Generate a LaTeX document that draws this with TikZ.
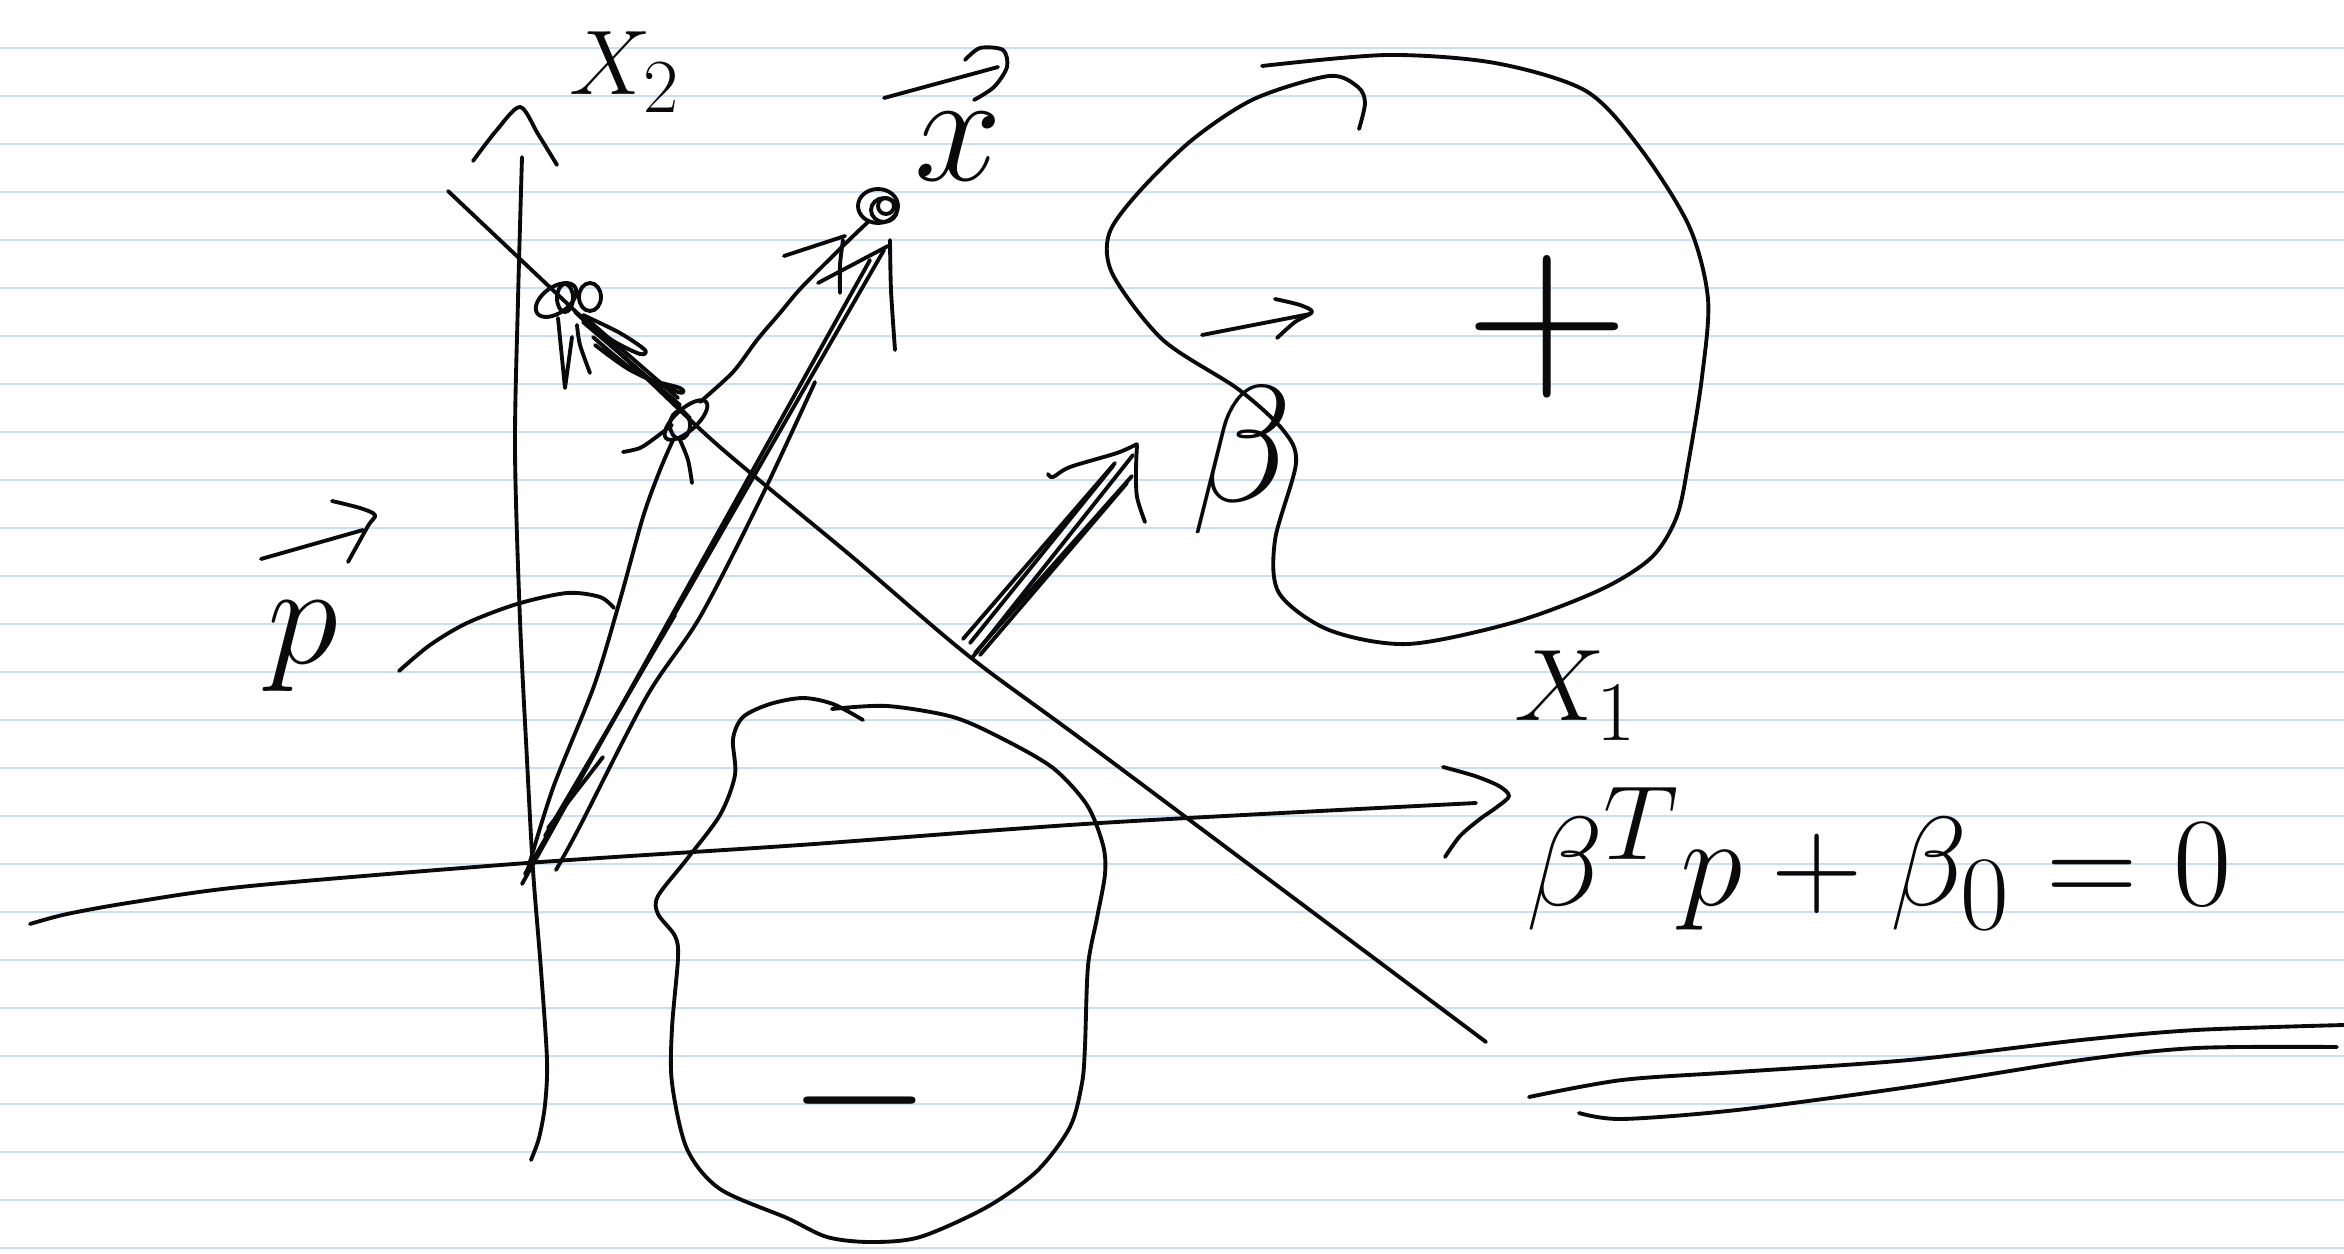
\documentclass[tikz,border=0pt]{standalone}
\usepackage{amsmath,amssymb}
\usepackage{xcolor}
\usepackage{tikz}
\usetikzlibrary{positioning}
\definecolor{cink}{HTML}{0A0A0A}
\definecolor{crule}{HTML}{C8DEFB}
\tikzset{
 ink/.style={draw=cink, line width=2.2pt, line cap=round, line join=round},
 rule/.style={draw=crule, line width=1.3pt},
 lbl/.style={inner sep=0pt, text=cink, font=\Huge},
}

\begin{document}
\begin{tikzpicture}[x=0.02cm, y=-0.02cm]
 % paper
 \useasboundingbox (0,0) rectangle (2344,1254);
 \fill[white] (0,0) rectangle (2344,1254);
 \foreach \k in {1,...,26} \draw[rule] (0,48*\k) -- (2344,48*\k);
 % axes
 \draw[ink] plot[smooth] coordinates {(522,157) (518,300) (515,450) (520,620) (527,760) (533,870) (541,970) (547,1060) (545,1105) (539,1138) (531,1160)};
 \draw[ink] plot[smooth] coordinates {(473,161) (496,131) (520,107) (538,134) (557,165)};
 \draw[ink] plot[smooth] coordinates {(30,924) (67,914) (134,902) (250,886) (527,863) (800,845) (1100,823) (1476,803)};
 \draw[ink] plot[smooth] coordinates {(1443,767) (1475,776) (1499,786) (1509,796) (1497,807) (1480,819) (1460,836) (1445,857)};
 % boundary
 \draw[ink] plot[smooth] coordinates {(448,191) (556,293) (640,372) (721,448) (850,555) (970,657) (1100,753) (1486,1042)};
 % regions
 \draw[ink] plot[smooth] coordinates {(1262,66) (1387,55) (1495,63) (1586,91) (1640,148) (1689,226) (1708,299) (1702,377) (1689,459) (1677,516) (1652,557) (1602,589) (1515,622) (1408,644) (1329,630) (1279,593) (1275,540) (1296,463) (1283,430) (1238,389) (1163,340) (1113,275) (1109,234) (1138,193) (1192,140) (1254,99) (1329,76) (1358,87) (1365,103) (1359,129)};
 \draw[ink] plot[smooth] coordinates {(832,709) (887,706) (953,717) (1003,739) (1053,768) (1087,805) (1103,845) (1105,874) (1097,918) (1088,966) (1085,1046) (1082,1083) (1070,1127) (1037,1171) (987,1207) (920,1237) (870,1242) (827,1237) (787,1218) (720,1189) (687,1149) (672,1083) (672,1028) (678,958) (675,936) (658,914) (658,896) (687,859) (720,815) (735,775) (733,739) (743,717) (770,704) (803,698) (833,704) (863,720)};
 \draw[ink] plot[smooth] coordinates {(399,671) (430,645) (467,623) (517,604) (567,593) (600,597) (614,608)};
 % vectors from origin
 \draw[ink] plot[smooth] coordinates {(527,872) (553,788) (594,686) (620,600) (643,517) (660,470) (673,440)};
 \draw[ink] (525,874) -- (884,250);
 \draw[ink] (522,884) -- (870,260);
 \draw[ink] plot[smooth] coordinates {(556,870) (580,826) (647,696) (700,617) (760,500) (815,382)};
 \draw[ink] (545,836) -- (675,615);
 \draw[ink] (548,828) -- (603,757);
 \draw[ink] (818,283) -- (888,246);
 \draw[ink] plot[smooth] coordinates {(890,240) (891,290) (895,350)};
 % support points
 \draw[ink, rotate around={35:(556,300)}] (556,300) ellipse [x radius=0.46cm, y radius=0.26cm];
 \draw[ink] (565,298) ellipse [x radius=0.16cm, y radius=0.28cm];
 \draw[ink] (590,297) ellipse [x radius=0.22cm, y radius=0.28cm];
 \draw[ink] (558,318) -- (565,388) -- (572,337);
 \draw[ink] plot[smooth] coordinates {(577,325) (580,345) (590,373)};
 \draw[ink] (575,312) -- (685,413);
 \draw[ink] (580,316) -- (690,418);
 \draw[ink] (583,322) -- (680,405);
 \draw[ink] (588,320) -- (678,398);
 \draw[ink] plot[smooth] coordinates {(583,315) (620,333) (645,350) (640,354) (615,342) (585,322)};
 \draw[ink] plot[smooth] coordinates {(593,337) (640,375) (680,388) (678,392) (630,370) (595,345)};
 \draw[ink, rotate around={42:(686,420)}] (686,420) ellipse [x radius=0.54cm, y radius=0.22cm];
 \draw[ink] (680,425) ellipse [x radius=0.2cm, y radius=0.28cm];
 \draw[ink] plot[smooth] coordinates {(623,452) (640,448) (655,438) (672,425)};
 \draw[ink] plot[smooth] coordinates {(680,440) (688,460) (692,483)};
 \draw[ink] plot[smooth] coordinates {(700,402) (733,372) (757,340) (780,313) (802,287) (846,243) (868,222)};
 \draw[ink] (784,256) -- (845,236);
 \draw[ink] plot[smooth] coordinates {(843,240) (840,265) (840,293)};
 % point x
 \draw[ink] (878,206) ellipse [x radius=0.4cm, y radius=0.34cm];
 \draw[ink] (884,210) ellipse [x radius=0.26cm, y radius=0.24cm];
 \draw[ink] (886,206) ellipse [x radius=0.16cm, y radius=0.16cm];
 % normal vector
 \draw[ink] (963,639) -- (1115,463);
 \draw[ink] (970,643) -- (1113,466);
 \draw[ink] (972,658) -- (1133,455);
 \draw[ink] (975,653) -- (1132,476);
 \draw[ink] (980,655) -- (1127,483);
 \draw[ink] plot[smooth] coordinates {(1048,474) (1053,477) (1070,467) (1117,453) (1137,444)};
 \draw[ink] plot[smooth] coordinates {(1137,445) (1136,470) (1137,497) (1145,522)};
 % labels
 \node[lbl, scale=2.1] (lblXtwo) at (625,72) {$X_2$};
 \node[lbl, scale=2.33] (lblXone) at (1576,696) {$X_1$};
 \node[lbl, scale=3.6] (lblx) at (958,147) {$x$};
 \node[lbl, scale=3.3] (lblp) at (303,646) {$p$};
 \node[lbl, scale=3.8] (lblbeta) at (1242,460) {$\beta$};
 \node[lbl, scale=2.9, anchor=base west] (lbleq) at (1525,905) {$\beta^{T}p+\beta_{0}=0$};
 \node[lbl, scale=5.2] (lblplus) at (1547,327) {$+$};
 \node[lbl, scale=4.2] (lblminus) at (860,1101) {$-$};
 % vector arrows over labels
 \draw[ink] (884,98) -- (998,67);
 \draw[ink] plot[smooth] coordinates {(965,60) (980,48) (1003,50) (1007,67) (994,87) (974,100)};
 \draw[ink] (261,559) -- (363,530);
 \draw[ink] plot[smooth] coordinates {(332,501) (360,508) (375,515) (368,526) (348,562)};
 \draw[ink] (1202,335) -- (1310,314);
 \draw[ink] plot[smooth] coordinates {(1275,299) (1300,305) (1312,312) (1295,322) (1277,338)};
 % underline
 \draw[ink] plot[smooth] coordinates {(1529,1097) (1622,1080) (1737,1072) (1909,1060) (2081,1040) (2196,1030) (2344,1025)};
 \draw[ink] plot[smooth] coordinates {(1579,1113) (1622,1119) (1737,1110) (1909,1087) (2081,1060) (2196,1048) (2337,1047)};
\end{tikzpicture}
\end{document}
